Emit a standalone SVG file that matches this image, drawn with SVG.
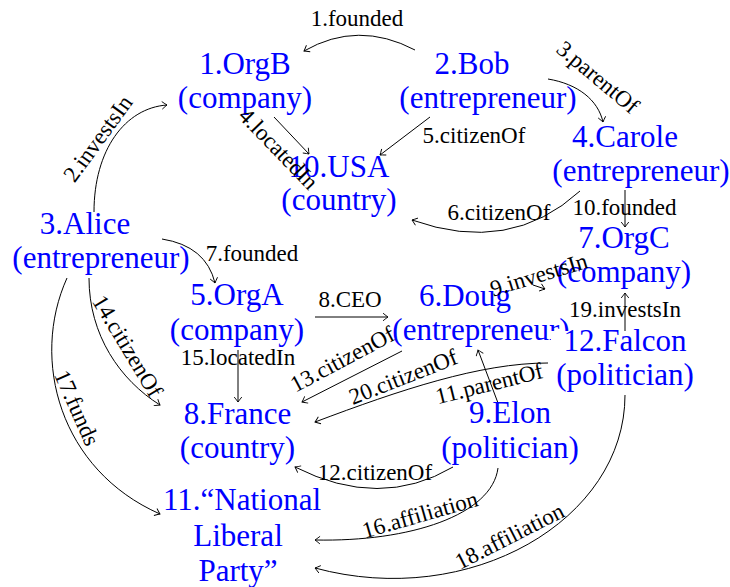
<svg xmlns="http://www.w3.org/2000/svg" width="730" height="587" viewBox="0 0 730 587">
<style>
.n{font-family:"Liberation Serif","DejaVu Serif",serif;font-size:31px;fill:#0000ff;text-anchor:middle}
.l{font-family:"Liberation Serif","DejaVu Serif",serif;font-size:23px;fill:#000;text-anchor:middle}
.e{fill:none;stroke:#000;stroke-width:1;marker-end:url(#arr)}
.bg{fill:#fff;stroke:none}
</style>
<defs>
<marker id="arr" viewBox="-6 -5 8 10" refX="0" refY="0" markerWidth="8" markerHeight="10" markerUnits="userSpaceOnUse" orient="auto">
<path d="M-5,-3.8 Q-1.5,-1 0,0 Q-1.5,1 -5,3.8" fill="none" stroke="#000" stroke-width="0.9"/>
</marker>
</defs>
<rect width="730" height="587" fill="#fff"/>
<g id="edges">
<path class="e" d="M415,50 Q358,20 304,51"/>
<path class="e" d="M94,212 C94,150 125,108 167,105"/>
<path class="e" d="M548,79 C578,84 598,100 603,122"/>
<path class="e" d="M274,117 L309,154"/>
<path class="e" d="M430,117 L380,155"/>
<path class="e" d="M580,191 Q510,255 412,220"/>
<path class="e" d="M162,239 Q206,246 215,283"/>
<path class="e" d="M315,317 L388,317"/>
<path class="e" d="M533,285 L545,289"/>
<path class="e" d="M625,190 L625,227"/>
<path class="e" d="M498,403 L478,350"/>
<path class="e" d="M453,467 Q380,510 295,467"/>
<path class="e" d="M402,351 L302,402"/>
<path class="e" d="M89,278 C89,335 120,380 160,405"/>
<path class="e" d="M238,350 L238,402"/>
<path class="e" d="M498,468 C492,515 410,542 315,540"/>
<path class="e" d="M67,278 C30,360 60,470 160,514"/>
<path class="e" d="M625,395 C625,520 470,610 315,568"/>
<path class="e" d="M625,332 L625,293"/>
<path class="e" d="M548,363 C480,363 400,390 315,422"/>
</g>
<g id="n1"><text class="n" x="245" y="74">1.OrgB</text><text class="n" x="245" y="108">(company)</text></g>
<g id="n2"><text class="n" x="472" y="74">2.Bob</text><text class="n" x="488" y="108">(entrepreneur)</text></g>
<g id="n3"><text class="n" x="85" y="234">3.Alice</text><text class="n" x="101" y="268">(entrepreneur)</text></g>
<g id="n4"><text class="n" x="625" y="147">4.Carole</text><text class="n" x="641" y="181">(entrepreneur)</text></g>
<g id="n5"><text class="n" x="237" y="305">5.OrgA</text><text class="n" x="237" y="340">(company)</text></g>
<g id="n6"><text class="n" x="465" y="306">6.Doug</text><text class="n" x="481" y="340">(entrepreneur)</text></g>
<g id="n7"><text class="n" x="624" y="248">7.OrgC</text><text class="n" x="624" y="282">(company)</text></g>
<g id="n8"><text class="n" x="237.5" y="424">8.France</text><text class="n" x="237.5" y="458">(country)</text></g>
<g id="n9"><text class="n" x="510" y="423">9.Elon</text><text class="n" x="510" y="458">(politician)</text></g>
<g id="n10"><text class="n" x="339" y="177">10.USA</text><text class="n" x="339" y="210">(country)</text></g>
<g id="n11"><text class="n" x="242" y="510">11.“National</text><text class="n" x="238" y="546">Liberal</text><text class="n" x="238" y="581">Party”</text></g>
<g id="n12"><rect class="bg" x="551" y="331" width="148" height="62"/><text class="n" x="625" y="351">12.Falcon</text><text class="n" x="625" y="385">(politician)</text></g>
<g id="labels">
<text class="l" x="357" y="26">1.founded</text>
<text class="l" transform="translate(104,143) rotate(-54)">2.investsIn</text>
<text class="l" transform="translate(593,83) rotate(40)">3.parentOf</text>
<text class="l" transform="translate(273,154) rotate(46)">4.locatedIn</text>
<text class="l" x="474" y="143">5.citizenOf</text>
<text class="l" x="499" y="220">6.citizenOf</text>
<text class="l" x="252" y="261">7.founded</text>
<text class="l" x="350" y="307">8.CEO</text>
<text class="l" transform="translate(541,282) rotate(-17)">9.investsIn</text>
<text class="l" x="624.5" y="215">10.founded</text>
<text class="l" transform="translate(491,391) rotate(-14)">11.parentOf</text>
<text class="l" x="375" y="480">12.citizenOf</text>
<text class="l" transform="translate(346,366) rotate(-28)">13.citizenOf</text>
<text class="l" transform="translate(121,350) rotate(59)">14.citizenOf</text>
<text class="l" x="238" y="365">15.locatedIn</text>
<text class="l" transform="translate(422,522) rotate(-16)">16.affiliation</text>
<text class="l" transform="translate(70,411) rotate(66)">17.funds</text>
<text class="l" transform="translate(513,543) rotate(-27)">18.affiliation</text>
<text class="l" x="625" y="317">19.investsIn</text>
<text class="l" transform="translate(406,384) rotate(-21.5)">20.citizenOf</text>
</g>
</svg>
